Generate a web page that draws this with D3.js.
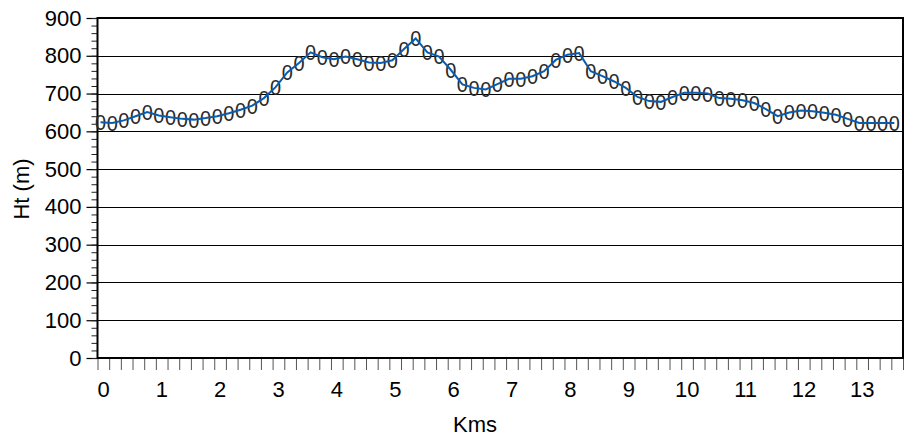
<!DOCTYPE html>
<html>
<head>
<meta charset="utf-8">
<script src="https://cdn.jsdelivr.net/npm/d3@7"></script>
<style>
  body { margin: 0; background: #fff; }
  text { font-family: "Liberation Sans", Arial, sans-serif; }
</style>
</head>
<body>
<svg id="chart" width="907" height="447"></svg>
<script>
// distance along the route (km), one reading every 200 m
var kms = [0, 0.2, 0.4, 0.6, 0.8, 1, 1.2, 1.4, 1.6, 1.8,
           2, 2.2, 2.4, 2.6, 2.8, 3, 3.2, 3.4, 3.6, 3.8,
           4, 4.2, 4.4, 4.6, 4.8, 5, 5.2, 5.4, 5.6, 5.8,
           6, 6.2, 6.4, 6.6, 6.8, 7, 7.2, 7.4, 7.6, 7.8,
           8, 8.2, 8.4, 8.6, 8.8, 9, 9.2, 9.4, 9.6, 9.8,
           10, 10.2, 10.4, 10.6, 10.8, 11, 11.2, 11.4, 11.6, 11.8,
           12, 12.2, 12.4, 12.6, 12.8, 13, 13.2, 13.4, 13.6];

// height (m) at each reading
var heights = [624, 622, 629, 640, 651, 642, 637, 633, 631, 635,
               640, 648, 657, 668, 688, 717, 756, 781, 809, 796,
               791, 798, 791, 782, 781, 788, 818, 846, 809, 798,
               763, 724, 715, 711, 725, 739, 739, 746, 759, 789,
               803, 807, 759, 746, 732, 715, 691, 680, 678, 691,
               702, 702, 700, 688, 686, 682, 675, 659, 640, 650,
               655, 653, 649, 644, 633, 622, 622, 622, 622];

var xLabels = [0, 1, 2, 3, 4, 5, 6, 7, 8, 9, 10, 11, 12, 13];
var yTicks = [0, 100, 200, 300, 400, 500, 600, 700, 800, 900];

var points = kms.map(function(k, i) { return { km: k, ht: heights[i] }; });

var svg = d3.select("#chart");
var plotLeft = 97.5, plotRight = 903, plotTop = 18, plotBottom = 358;
var fontSize = 22;

var x = d3.scaleLinear().domain([0, 13.8]).range([plotLeft, plotRight]);
var y = d3.scaleLinear().domain([0, 900]).range([plotBottom, plotTop]);

var markOffset = 3; // the "0" markers sit a little right of each reading

// horizontal grid lines
svg.append("g")
    .selectAll("line")
    .data(yTicks.filter(function(d) { return d > 0 && d < 900; }))
    .enter().append("line")
    .attr("x1", plotLeft).attr("x2", plotRight)
    .attr("y1", function(d) { return Math.round(y(d)) + 0.5; })
    .attr("y2", function(d) { return Math.round(y(d)) + 0.5; })
    .attr("stroke", "#000")
    .attr("stroke-width", 1);

// right border
svg.append("line")
    .attr("x1", plotRight).attr("x2", plotRight)
    .attr("y1", plotTop).attr("y2", plotBottom)
    .attr("stroke", "#000").attr("stroke-width", 2);

// y axis: majors every 100, minors every 20
var yAxis = d3.axisLeft(y).tickValues(yTicks).tickSize(11).tickPadding(5);
var yG = svg.append("g").attr("transform", "translate(" + plotLeft + ",0)").call(yAxis);
yG.select(".domain").remove();
yG.selectAll("text").attr("font-size", fontSize).attr("fill", "#000")
    .attr("font-family", "Liberation Sans, Arial, sans-serif");
yG.selectAll(".tick line").attr("stroke", "#000").attr("stroke-width", 1.2);

var yMinor = d3.axisLeft(y).tickValues(d3.range(0, 901, 20)).tickSize(6).tickFormat("");
var yMg = svg.append("g").attr("transform", "translate(" + plotLeft + ",0)").call(yMinor);
yMg.select(".domain").remove();
yMg.selectAll(".tick line").attr("stroke", "#222");

// x axis: a tick at every reading, labels at whole km
var xAxis = d3.axisBottom(x).tickValues(kms.concat([13.8])).tickSize(12).tickFormat("");
var xG = svg.append("g").attr("transform", "translate(0," + plotBottom + ")").call(xAxis);
xG.select(".domain").remove();
xG.selectAll(".tick line").attr("stroke", "#555");

svg.append("g")
    .selectAll("text")
    .data(xLabels)
    .enter().append("text")
    .attr("x", function(d) { return x(d) + 6; })
    .attr("y", 397)
    .attr("text-anchor", "middle")
    .attr("font-size", fontSize)
    .text(function(d) { return d; });

// axis lines
svg.append("line")
    .attr("x1", plotLeft).attr("x2", plotLeft).attr("y1", plotTop - 1).attr("y2", plotBottom + 1)
    .attr("stroke", "#000").attr("stroke-width", 2);
svg.append("line")
    .attr("x1", plotLeft).attr("x2", plotRight + 1).attr("y1", plotBottom).attr("y2", plotBottom)
    .attr("stroke", "#000").attr("stroke-width", 2);
svg.append("line")
    .attr("x1", plotLeft).attr("x2", plotRight + 1).attr("y1", plotTop).attr("y2", plotTop)
    .attr("stroke", "#000").attr("stroke-width", 2);

// markers drawn as "0" glyphs
svg.append("g")
    .selectAll("text")
    .data(points)
    .enter().append("text")
    .attr("transform", function(d) {
        return "translate(" + (x(d.km) + markOffset) + "," + y(d.ht) + ") scale(0.95,1.05)";
    })
    .attr("dy", "0.36em")
    .attr("text-anchor", "middle")
    .attr("font-size", 21)
    .attr("fill", "#2a2a2a")
    .text("0");

// profile line
var line = d3.line()
    .x(function(d) { return x(d.km) + markOffset; })
    .y(function(d) { return y(d.ht); });

svg.append("path")
    .datum(points)
    .attr("d", line)
    .attr("fill", "none")
    .attr("stroke", "#0b5cad")
    .attr("stroke-width", 2);

// axis titles
svg.append("text")
    .attr("transform", "translate(29,189) rotate(-90)")
    .attr("text-anchor", "middle")
    .attr("font-size", fontSize)
    .text("Ht (m)");

svg.append("text")
    .attr("x", 475)
    .attr("y", 432)
    .attr("text-anchor", "middle")
    .attr("font-size", fontSize)
    .text("Kms");
</script>
</body>
</html>
